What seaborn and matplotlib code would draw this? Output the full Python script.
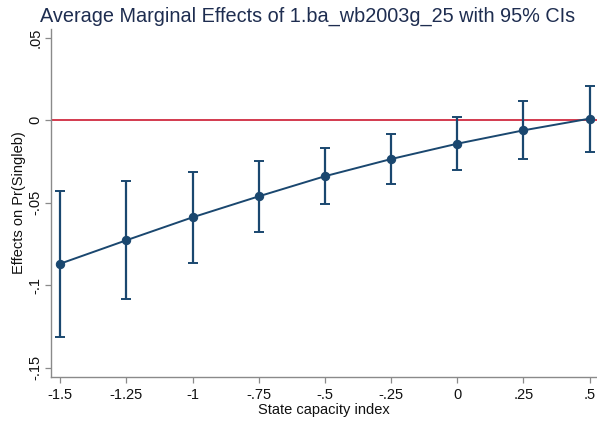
import numpy as np
import pandas as pd
import matplotlib
matplotlib.use("Agg")
import matplotlib.pyplot as plt
import seaborn as sns

# Data
state_capacity = [-1.5, -1.25, -1.0, -0.75, -0.5, -0.25, 0.0, 0.25, 0.5]
effect = [-0.0869, -0.0727, -0.0588, -0.0461, -0.0339, -0.0235, -0.0142, -0.0061, 0.0010]
ci_low = [-0.1311, -0.1081, -0.0865, -0.0675, -0.0505, -0.0386, -0.0299, -0.0236, -0.0190]
ci_high = [-0.0427, -0.0368, -0.0311, -0.0247, -0.0170, -0.0083, 0.0018, 0.0119, 0.0206]
x_ticks = [-1.5, -1.25, -1.0, -0.75, -0.5, -0.25, 0.0, 0.25, 0.5]
x_tick_labels = ["-1.5", "-1.25", "-1", "-.75", "-.5", "-.25", "0", ".25", ".5"]
y_ticks = [-0.15, -0.1, -0.05, 0.0, 0.05]
y_tick_labels = ["-.15", "-.1", "-.05", "0", ".05"]

df = pd.DataFrame({"x": state_capacity, "y": effect, "lo": ci_low, "hi": ci_high})

sns.set_style("white")
plt.rcParams["font.family"] = ["Liberation Sans", "DejaVu Sans"]

navy = "#1a476f"
fig = plt.figure(figsize=(5.97, 4.21), dpi=100)
ax = fig.add_axes([0.085, 0.1045, 0.915, 0.8265])

ax.axhline(0, color="#d33a4e", lw=1.4, zorder=1)

yerr = np.vstack([df["y"] - df["lo"], df["hi"] - df["y"]])
ax.errorbar(df["x"], df["y"], yerr=yerr, fmt="none", ecolor=navy,
            elinewidth=1.6, capsize=3.5, capthick=1.4, zorder=2)
sns.lineplot(data=df, x="x", y="y", ax=ax, color=navy, lw=1.4,
             marker="o", markersize=6, markeredgecolor=navy, zorder=3)

ax.set_xlim(-1.536, 0.528)
ax.set_ylim(-0.1556, 0.0553)
ax.set_xticks(x_ticks)
ax.set_xticklabels(x_tick_labels, fontsize=10.5, color="#111111")
ax.set_yticks(y_ticks)
ax.set_yticklabels(y_tick_labels, fontsize=10.5, color="#111111", rotation=90, va="center")

for s in ["top", "right"]:
    ax.spines[s].set_visible(False)
for s in ["left", "bottom"]:
    ax.spines[s].set_color("#8a8a8a")
    ax.spines[s].set_linewidth(1.0)
ax.tick_params(axis="x", which="both", direction="out", length=4, width=0.9,
               color="#8a8a8a", bottom=True, pad=4)
ax.tick_params(axis="y", which="both", direction="out", length=4, width=0.9,
               color="#8a8a8a", left=True, pad=2)

ax.set_xlabel("State capacity index", fontsize=10.5, color="#111111", labelpad=0.5)
ax.set_ylabel("Effects on Pr(Singleb)", fontsize=10.5, color="#111111", labelpad=2)
fig.suptitle("Average Marginal Effects of 1.ba_wb2003g_25 with 95% CIs",
             fontsize=14.3, color="#1e2d50", x=0.515, y=0.985, va="top")

fig.savefig("out.png", dpi=100)
